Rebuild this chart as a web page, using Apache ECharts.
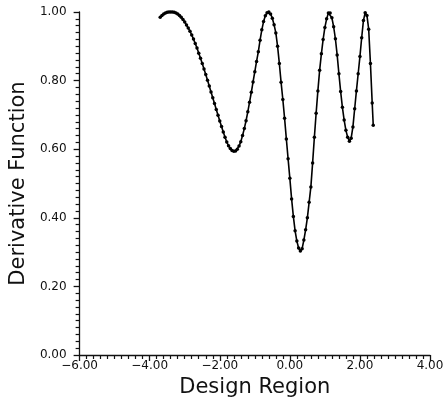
<!DOCTYPE html>
<html>
<head>
<meta charset="utf-8">
<script src="https://cdn.jsdelivr.net/npm/echarts@6/dist/echarts.min.js"></script>
<style>
  html, body { margin: 0; padding: 0; background: #fff; }
  #chart { width: 447px; height: 403px; }
</style>
</head>
<body>
<div id="chart"></div>
<script>
// Sampled design points (x) and the derivative function value at each one (y)
const designX = [
  -3.70, -3.65, -3.60, -3.55, -3.50, -3.45, -3.40, -3.35, -3.30, -3.25,
  -3.20, -3.15, -3.10, -3.05, -3.00, -2.95, -2.90, -2.85, -2.80, -2.75,
  -2.70, -2.65, -2.60, -2.55, -2.50, -2.45, -2.40, -2.35, -2.30, -2.25,
  -2.20, -2.15, -2.10, -2.05, -2.00, -1.95, -1.90, -1.85, -1.80, -1.75,
  -1.70, -1.65, -1.60, -1.55, -1.50, -1.45, -1.40, -1.35, -1.30, -1.25,
  -1.20, -1.15, -1.10, -1.05, -1.00, -0.95, -0.90, -0.85, -0.80, -0.75,
  -0.70, -0.65, -0.60, -0.55, -0.50, -0.45, -0.40, -0.35, -0.30, -0.25,
  -0.20, -0.15, -0.10, -0.05, 0.00, 0.05, 0.10, 0.15, 0.20, 0.25,
  0.30, 0.35, 0.40, 0.45, 0.50, 0.55, 0.60, 0.65, 0.70, 0.75,
  0.80, 0.85, 0.90, 0.95, 1.00, 1.05, 1.10, 1.15, 1.20, 1.25,
  1.30, 1.35, 1.40, 1.45, 1.50, 1.55, 1.60, 1.65, 1.70, 1.75,
  1.80, 1.85, 1.90, 1.95, 2.00, 2.05, 2.10, 2.15, 2.20, 2.25,
  2.30, 2.35, 2.38
];
const derivY = [
  0.985, 0.990, 0.994, 0.997, 0.999, 1.000, 1.000, 1.000, 0.999, 0.997,
  0.994, 0.990, 0.985, 0.978, 0.971, 0.962, 0.953, 0.944, 0.933, 0.921,
  0.908, 0.895, 0.880, 0.865, 0.850, 0.834, 0.818, 0.801, 0.784, 0.767,
  0.750, 0.733, 0.716, 0.699, 0.682, 0.666, 0.650, 0.635, 0.621, 0.610,
  0.602, 0.596, 0.594, 0.595, 0.600, 0.609, 0.622, 0.640, 0.660, 0.683,
  0.709, 0.737, 0.766, 0.796, 0.826, 0.856, 0.884, 0.918, 0.948, 0.972,
  0.989, 0.998, 1.000, 0.994, 0.982, 0.963, 0.939, 0.900, 0.850, 0.795,
  0.745, 0.690, 0.630, 0.572, 0.515, 0.455, 0.404, 0.362, 0.332, 0.312,
  0.303, 0.310, 0.335, 0.365, 0.400, 0.445, 0.490, 0.560, 0.635, 0.705,
  0.770, 0.830, 0.878, 0.920, 0.955, 0.980, 0.997, 0.997, 0.983, 0.957,
  0.922, 0.875, 0.820, 0.768, 0.722, 0.685, 0.655, 0.635, 0.623, 0.632,
  0.665, 0.718, 0.770, 0.820, 0.870, 0.925, 0.975, 0.998, 0.990, 0.950,
  0.850, 0.735, 0.670
];

// Axis tick labels
const xTicks = ['-6.00', '-4.00', '-2.00', '0.00', '2.00', '4.00'];
const yTicks = ['0.00', '0.20', '0.40', '0.60', '0.80', '1.00'];

const points = designX.map((x, i) => [x, derivY[i]]);

const FONT = 'DejaVu Sans';
const INK = '#111';

const chart = echarts.init(document.getElementById('chart'), null, { renderer: 'canvas' });
chart.setOption({
  animation: false,
  backgroundColor: '#fff',
  grid: { left: 78, right: 17, top: 12, bottom: 47, containLabel: false },
  xAxis: {
    type: 'value',
    min: -6, max: 4, interval: 2,
    name: 'Design Region',
    nameLocation: 'middle',
    nameGap: 22,
    nameTextStyle: { fontFamily: FONT, fontSize: 21, color: INK },
    axisLine: { show: true, onZero: false, lineStyle: { color: INK, width: 1.3 } },
    axisTick: { show: true, inside: false, length: 6, lineStyle: { color: INK, width: 1.3 } },
    minorTick: { show: true, splitNumber: 10, length: 4, lineStyle: { color: INK, width: 1.2 } },
    splitLine: { show: false },
    minorSplitLine: { show: false },
    axisLabel: {
      fontFamily: FONT, fontSize: 12, color: INK, margin: 5,
      formatter: (v) => xTicks[Math.round((v + 6) / 2)].replace('-', '\u2212')
    }
  },
  yAxis: {
    type: 'value',
    min: 0, max: 1, interval: 0.2,
    name: 'Derivative Function',
    nameLocation: 'middle',
    nameGap: 46,
    nameRotate: 90,
    nameTextStyle: { fontFamily: FONT, fontSize: 21, color: INK },
    axisLine: { show: true, onZero: false, lineStyle: { color: INK, width: 1.3 } },
    axisTick: { show: true, inside: false, length: 6, lineStyle: { color: INK, width: 1.3 } },
    minorTick: { show: true, splitNumber: 10, length: 4, lineStyle: { color: INK, width: 1.2 } },
    splitLine: { show: false },
    minorSplitLine: { show: false },
    axisLabel: {
      fontFamily: FONT, fontSize: 12, color: INK, margin: 13,
      formatter: (v) => yTicks[Math.round(v / 0.2)]
    }
  },
  series: [{
    type: 'line',
    data: points,
    smooth: false,
    showSymbol: true,
    symbol: 'circle',
    symbolSize: 3.5,
    itemStyle: { color: '#000' },
    lineStyle: { color: '#000', width: 1.6 },
    clip: false
  }]
});
</script>
</body>
</html>
